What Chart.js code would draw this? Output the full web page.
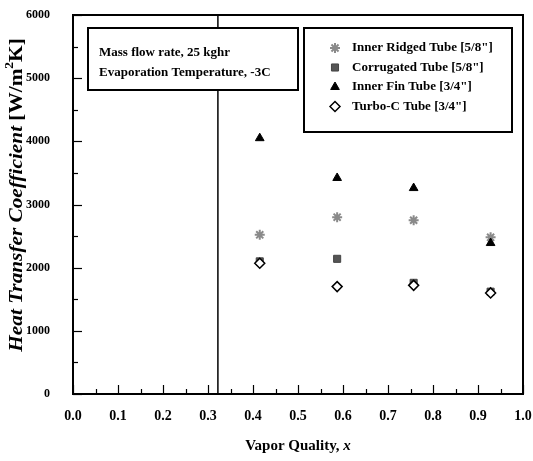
<!DOCTYPE html>
<html>
<head>
<meta charset="utf-8">
<script src="https://cdn.jsdelivr.net/npm/chart.js@4.4.0/dist/chart.umd.min.js"></script>
<style>
  html, body { margin: 0; padding: 0; background: #fff; }
  #wrap { width: 533px; height: 461px; position: relative; }
</style>
</head>
<body>
<div id="wrap"><canvas id="c" width="533" height="461"></canvas></div>
<script>
// vapor quality of each measurement
const qualityX = [0.415, 0.587, 0.757, 0.928];
// heat transfer coefficient, W/m2K
const innerRidged = [2520, 2800, 2750, 2480];
const corrugated = [2100, 2140, 1760, 1620];
const innerFin = [4050, 3420, 3260, 2390];
const turboC = [2070, 1700, 1720, 1600];

const seriesNames = [
  'Inner Ridged Tube [5/8"]',
  'Corrugated Tube [5/8"]',
  'Inner Fin Tube [3/4"]',
  'Turbo-C Tube [3/4"]',
];
const noteLines = ['Mass flow rate, 25 kghr', 'Evaporation Temperature, -3C'];
const dividerX = 0.322;

const xTicks = [0, 0.1, 0.2, 0.3, 0.4, 0.5, 0.6, 0.7, 0.8, 0.9, 1.0];
const yTicks = [0, 1000, 2000, 3000, 4000, 5000, 6000];

const SERIF = '"Liberation Serif", "Times New Roman", serif';

function pts(ys) {
  return qualityX.map(function (x, i) {
    return { x: x, y: ys[i] };
  });
}

const styles = [
  { pointStyle: 'star', radius: 5, bg: '#8a8a8a', border: '#8a8a8a', bw: 2 },
  { pointStyle: 'rect', radius: 5, bg: '#555', border: '#444', bw: 1 },
  { pointStyle: 'triangle', radius: 5, bg: '#000', border: '#000', bw: 1 },
  { pointStyle: 'rectRot', radius: 5, bg: '#fff', border: '#000', bw: 1.5 },
];
const seriesData = [innerRidged, corrugated, innerFin, turboC];

const datasets = seriesData.map(function (ys, i) {
  const s = styles[i];
  return {
    label: seriesNames[i],
    data: pts(ys),
    pointStyle: s.pointStyle,
    pointRadius: s.radius,
    pointBackgroundColor: s.bg,
    pointBorderColor: s.border,
    pointBorderWidth: s.bw,
    showLine: false,
    order: 4 - i,
  };
});

const decor = {
  id: 'decor',
  afterDatasetsDraw: function (chart) {
    const ctx = chart.ctx;
    const a = chart.chartArea;
    const xs = chart.scales.x;
    const ys = chart.scales.y;
    ctx.save();
    ctx.strokeStyle = '#000';

    // divider line
    ctx.lineWidth = 1.5;
    const dx = xs.getPixelForValue(dividerX);
    ctx.beginPath();
    ctx.moveTo(dx, a.top);
    ctx.lineTo(dx, a.bottom);
    ctx.stroke();

    // ticks, pointing inward
    ctx.lineWidth = 1.2;
    for (let v = 0; v <= 1.0001; v += 0.05) {
      const px = Math.round(xs.getPixelForValue(v)) + 0.5;
      const major = Math.abs(v * 10 - Math.round(v * 10)) < 0.01;
      const len = major ? 9 : 5;
      ctx.beginPath();
      ctx.moveTo(px, a.bottom);
      ctx.lineTo(px, a.bottom - len);
      ctx.stroke();
    }
    for (let v = 0; v <= 6000; v += 500) {
      const py = Math.round(ys.getPixelForValue(v)) + 0.5;
      const len = v % 1000 === 0 ? 9 : 5;
      ctx.beginPath();
      ctx.moveTo(a.left, py);
      ctx.lineTo(a.left + len, py);
      ctx.stroke();
    }

    // frame
    ctx.lineWidth = 2;
    ctx.strokeRect(a.left, a.top, a.right - a.left, a.bottom - a.top);

    // note box
    const nb = { x: a.left + 15, y: a.top + 13, w: 210, h: 62 };
    ctx.fillStyle = '#fff';
    ctx.fillRect(nb.x, nb.y, nb.w, nb.h);
    ctx.strokeRect(nb.x, nb.y, nb.w, nb.h);
    ctx.fillStyle = '#000';
    ctx.font = 'bold 13px ' + SERIF;
    ctx.textAlign = 'left';
    ctx.textBaseline = 'middle';
    noteLines.forEach(function (t, i) {
      ctx.fillText(t, nb.x + 11, nb.y + 25 + i * 20);
    });

    // legend box
    const lb = { x: a.left + 231, y: a.top + 13, w: 208, h: 104 };
    ctx.fillStyle = '#fff';
    ctx.fillRect(lb.x, lb.y, lb.w, lb.h);
    ctx.strokeRect(lb.x, lb.y, lb.w, lb.h);
    chart.data.datasets.forEach(function (ds, i) {
      const cy = lb.y + 20 + i * 19.5;
      ctx.fillStyle = ds.pointBackgroundColor;
      ctx.strokeStyle = ds.pointBorderColor;
      ctx.lineWidth = ds.pointBorderWidth;
      Chart.helpers.drawPoint(ctx, {
        pointStyle: ds.pointStyle,
        radius: ds.pointRadius,
        borderWidth: ds.pointBorderWidth,
        rotation: 0,
      }, lb.x + 31, cy);
      ctx.fillStyle = '#000';
      ctx.font = 'bold 13px ' + SERIF;
      ctx.textAlign = 'left';
      ctx.textBaseline = 'middle';
      ctx.fillText(ds.label, lb.x + 48, cy);
    });

    // x axis title
    ctx.fillStyle = '#000';
    ctx.textBaseline = 'middle';
    const t1 = 'Vapor Quality, ';
    ctx.font = 'bold 15px ' + SERIF;
    const w1 = ctx.measureText(t1).width;
    ctx.font = 'bold italic 15px ' + SERIF;
    const w2 = ctx.measureText('x').width;
    const tx = (a.left + a.right) / 2 - (w1 + w2) / 2;
    ctx.textAlign = 'left';
    ctx.font = 'bold 15px ' + SERIF;
    ctx.fillText(t1, tx, 446);
    ctx.font = 'bold italic 15px ' + SERIF;
    ctx.fillText('x', tx + w1, 446);

    // y axis title, rotated
    ctx.save();
    ctx.translate(17, 195);
    ctx.rotate(-Math.PI / 2);
    ctx.scale(1.12, 1);
    const parts = [
      { t: 'Heat Transfer Coefficient ', f: 'bold italic 19px ' + SERIF, dy: 0 },
      { t: '[W/m', f: 'bold 19px ' + SERIF, dy: 0 },
      { t: '2', f: 'bold 12px ' + SERIF, dy: -7 },
      { t: 'K]', f: 'bold 19px ' + SERIF, dy: 0 },
    ];
    let total = 0;
    parts.forEach(function (p) {
      ctx.font = p.f;
      p.w = ctx.measureText(p.t).width;
      total += p.w;
    });
    let px = -total / 2;
    parts.forEach(function (p) {
      ctx.font = p.f;
      ctx.fillText(p.t, px, p.dy);
      px += p.w;
    });
    ctx.restore();

    ctx.restore();
  },
};

new Chart(document.getElementById('c'), {
  type: 'scatter',
  data: { datasets: datasets },
  options: {
    responsive: false,
    animation: false,
    layout: { autoPadding: false, padding: { top: 15, right: 10, left: 0, bottom: 0 } },
    plugins: { legend: { display: false }, tooltip: { enabled: false } },
    scales: {
      x: {
        type: 'linear',
        min: 0,
        max: 1,
        afterBuildTicks: function (s) {
          s.ticks = xTicks.map(function (v) { return { value: v }; });
        },
        afterFit: function (s) {
          s.height = 67;
          s.paddingLeft = 0;
          s.paddingRight = 0;
        },
        grid: { display: false },
        border: { display: false },
        ticks: {
          color: '#000',
          padding: 6,
          maxRotation: 0,
          font: { family: SERIF, size: 14, weight: 'bold' },
          callback: function (v) { return Number(v).toFixed(1); },
        },
      },
      y: {
        type: 'linear',
        min: 0,
        max: 6000,
        afterBuildTicks: function (s) {
          s.ticks = yTicks.map(function (v) { return { value: v }; });
        },
        afterFit: function (s) {
          s.width = 73;
          s.paddingTop = 0;
          s.paddingBottom = 0;
        },
        grid: { display: false },
        border: { display: false },
        ticks: {
          color: '#000',
          padding: 15,
          font: { family: SERIF, size: 12, weight: 'bold' },
          callback: function (v) { return String(v); },
        },
      },
    },
  },
  plugins: [decor],
});
</script>
</body>
</html>
